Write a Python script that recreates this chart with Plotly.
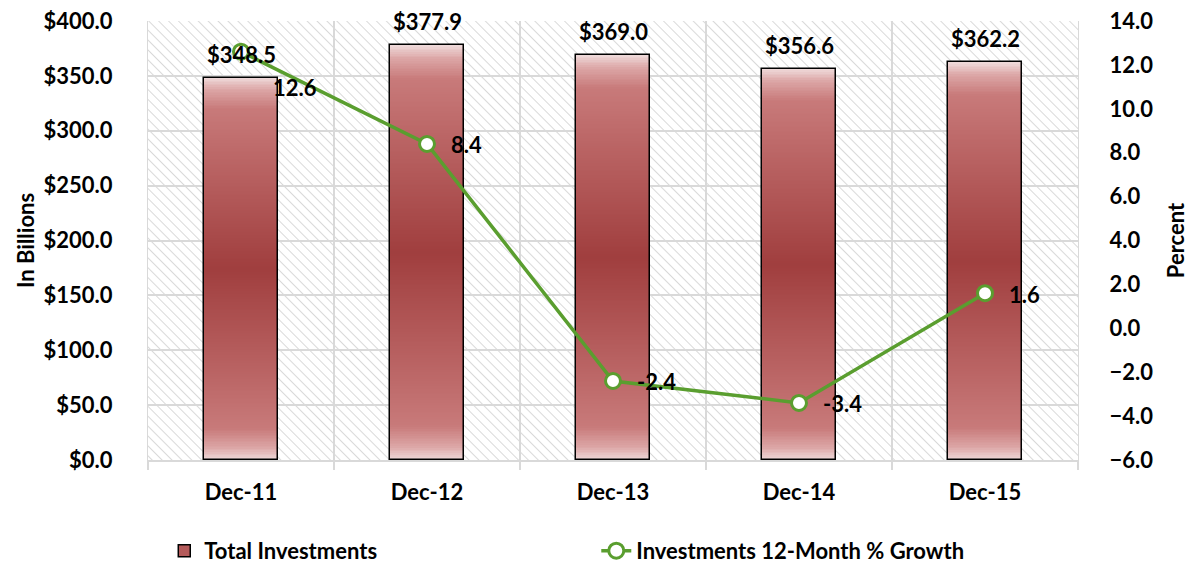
import base64

import plotly.graph_objects as go

# data
categories = ["Dec-11", "Dec-12", "Dec-13", "Dec-14", "Dec-15"]
investments = [348.5, 377.9, 369.0, 356.6, 362.2]
growth = [12.6, 8.4, -2.4, -3.4, 1.6]

FONT = "Lato"
GREEN = "#5a9e2f"
GRID = "#d9d9d9"
N_LAYERS = 120
BAR_W = 0.4

# colour stops for the bar shading: t=0 centre of bar, t=1 top/bottom edge
_STOPS = [
    (0.0, (160, 62, 62)),
    (0.55, (186, 100, 100)),
    (0.84, (200, 122, 122)),
    (0.94, (220, 166, 166)),
    (1.0, (238, 216, 216)),
]


def shade(t):
    for (t0, c0), (t1, c1) in zip(_STOPS, _STOPS[1:]):
        if t <= t1:
            f = (t - t0) / (t1 - t0)
            rgb = [round(a + (b - a) * f) for a, b in zip(c0, c1)]
            return "rgb({},{},{})".format(*rgb)
    return "rgb({},{},{})".format(*_STOPS[-1][1])


# diagonal hatch for the plot area
hatch_svg = (
    "<svg xmlns='http://www.w3.org/2000/svg' width='930' height='439'>"
    "<defs><pattern id='h' width='7' height='7' patternUnits='userSpaceOnUse' "
    "patternTransform='rotate(-45)'>"
    "<line x1='0' y1='0' x2='0' y2='7' stroke='#c4c4c4' stroke-width='1.3'/>"
    "</pattern></defs><rect width='100%' height='100%' fill='url(#h)'/></svg>"
)
hatch_uri = "data:image/svg+xml;base64," + base64.b64encode(hatch_svg.encode()).decode()

fig = go.Figure()

# shaded bars: nested, centred layers getting darker toward the middle
for i in range(N_LAYERS):
    h = 1 - i / N_LAYERS
    fig.add_trace(
        go.Bar(
            x=categories,
            y=[v * h for v in investments],
            base=[v * (1 - h) / 2 for v in investments],
            width=BAR_W,
            marker=dict(color=shade(h), line=dict(width=0)),
            hoverinfo="skip",
            showlegend=False,
        )
    )

# outline
fig.add_trace(
    go.Bar(
        x=categories,
        y=investments,
        width=BAR_W,
        marker=dict(color="rgba(0,0,0,0)", line=dict(color="black", width=1.5)),
        hoverinfo="skip",
        showlegend=False,
    )
)

# legend entry for the bars
fig.add_trace(
    go.Bar(
        x=[categories[0]],
        y=[None],
        name="Total Investments",
        marker=dict(color="#b45a5a", line=dict(color="black", width=1.5)),
        showlegend=True,
    )
)

fig.add_trace(
    go.Scatter(
        x=categories,
        y=growth,
        yaxis="y2",
        mode="lines+markers",
        name="Investments 12-Month % Growth",
        line=dict(color=GREEN, width=3.5),
        marker=dict(size=15, color="white", line=dict(color=GREEN, width=3)),
        hoverinfo="skip",
    )
)

label_font = dict(family=FONT, size=22, color="black", weight="bold")

for c, v in zip(categories, investments):
    fig.add_annotation(
        x=c, y=v, xref="x", yref="y",
        text=f"${v:.1f}",
        showarrow=False,
        yanchor="bottom",
        yshift=8,
        font=label_font,
    )

for k, (c, g) in enumerate(zip(categories, growth)):
    fig.add_annotation(
        x=c, y=g, xref="x", yref="y2",
        text=f"{g:.1f}",
        showarrow=False,
        xanchor="left",
        xshift=30 if k == 0 else 22,
        yshift=-36 if k == 0 else -1,
        font=label_font,
    )

fig.add_layout_image(
    source=hatch_uri, xref="paper", yref="paper",
    x=0, y=1, sizex=1, sizey=1,
    xanchor="left", yanchor="top", sizing="stretch", layer="below",
)

tick_font = dict(family=FONT, size=22, color="black", weight="bold")
title_font = dict(family=FONT, size=22, color="black", weight="bold")

# the page puts the figure 8px in from the top-left corner
fig.update_layout(
    width=1188,
    height=557,
    margin=dict(l=140, r=118, t=13, b=105, autoexpand=False),
    paper_bgcolor="white",
    plot_bgcolor="rgba(0,0,0,0)",
    barmode="overlay",
    bargap=0,
    font=dict(family=FONT, color="black"),
    xaxis=dict(
        type="category",
        tickson="boundaries",
        showgrid=True,
        gridcolor=GRID,
        gridwidth=1.5,
        ticks="outside",
        ticklen=8,
        tickcolor=GRID,
        tickwidth=1.5,
        showline=True,
        linecolor=GRID,
        linewidth=1.5,
        tickfont=tick_font,
        ticklabelstandoff=12,
        range=[-0.5, 4.5],
        automargin=False,
    ),
    yaxis=dict(
        range=[0, 400],
        dtick=50,
        tickformat="$.1f",
        showgrid=True,
        gridcolor=GRID,
        gridwidth=1.5,
        zeroline=False,
        showline=True,
        linecolor=GRID,
        linewidth=1,
        tickfont=tick_font,
        ticklabelstandoff=30,
        ticklabeloverflow="allow",
        automargin=False,
        title=dict(text="In Billions", font=title_font, standoff=2),
    ),
    yaxis2=dict(
        overlaying="y",
        side="right",
        range=[-6, 14],
        dtick=2,
        tickformat=".1f",
        showgrid=False,
        zeroline=False,
        showline=True,
        linecolor=GRID,
        linewidth=1,
        tickfont=tick_font,
        ticklabelstandoff=26,
        ticklabeloverflow="allow",
        automargin=False,
        title=dict(text="Percent", font=title_font, standoff=16),
    ),
    legend=dict(
        orientation="h",
        x=0.0175,
        xanchor="left",
        y=-0.207,
        yanchor="middle",
        entrywidth=387,
        font=dict(family=FONT, size=22, color="black", weight="bold"),
        traceorder="normal",
    ),
    showlegend=True,
)

fig.write_html("out.html")
